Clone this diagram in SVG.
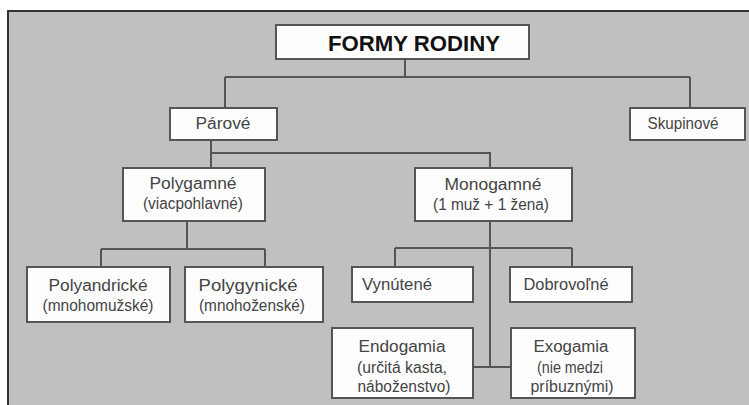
<svg xmlns="http://www.w3.org/2000/svg" width="749" height="405" viewBox="0 0 749 405">
<style>
.box{fill:#fdfdfd;stroke:#555;stroke-width:2}
.ln{fill:none;stroke:#555;stroke-width:2}
.t{font-family:"Liberation Sans",Arial,sans-serif;font-size:16px;fill:#444;text-anchor:middle}
.title{font-family:"Liberation Sans",Arial,sans-serif;font-size:22px;font-weight:bold;fill:#111;text-anchor:middle}
</style>
<rect x="0" y="0" width="749" height="405" fill="#ffffff"/>
<rect x="8" y="11" width="741" height="394" fill="#c0c0c0"/>
<path d="M8 405 V11 H749" fill="none" stroke="#333" stroke-width="2"/>
<g id="connectors">
<path class="ln" d="M405 59 V77 M225 77 H690 M225 77 V108 M690 77 V108"/>
<path class="ln" d="M211 140 V168 M211 153 H490 V168"/>
<path class="ln" d="M187 221 V249 M101 249 H265 M101 249 V267 M265 249 V267"/>
<path class="ln" d="M490 221 V367 M395 248 H572 M395 248 V267 M572 248 V267 M473 367 H511"/>
</g>
<g id="formy">
<rect class="box" x="276" y="25" width="253" height="34"/>
<text class="title" x="414" y="51" textLength="172" lengthAdjust="spacingAndGlyphs">FORMY RODINY</text>
</g>
<g id="parove">
<rect class="box" x="170" y="108" width="107" height="32"/>
<text class="t" x="223" y="129" textLength="55" lengthAdjust="spacingAndGlyphs">Párové</text>
</g>
<g id="skupinove">
<rect class="box" x="630" y="108" width="115" height="32"/>
<text class="t" x="683" y="129" textLength="71" lengthAdjust="spacingAndGlyphs">Skupinové</text>
</g>
<g id="polygamne">
<rect class="box" x="123" y="168" width="142" height="53"/>
<text class="t" x="193" y="189" textLength="87" lengthAdjust="spacingAndGlyphs">Polygamné</text>
<text class="t" x="193" y="209" font-size="14" textLength="100" lengthAdjust="spacingAndGlyphs">(viacpohlavné)</text>
</g>
<g id="monogamne">
<rect class="box" x="415" y="168" width="157" height="53"/>
<text class="t" x="493" y="190" textLength="97" lengthAdjust="spacingAndGlyphs">Monogamné</text>
<text class="t" x="491" y="210" font-size="14" textLength="116" lengthAdjust="spacingAndGlyphs">(1 muž + 1 žena)</text>
</g>
<g id="polyandricke">
<rect class="box" x="27" y="267" width="143" height="55"/>
<text class="t" x="98" y="291" textLength="99" lengthAdjust="spacingAndGlyphs">Polyandrické</text>
<text class="t" x="98" y="311" font-size="14" textLength="111" lengthAdjust="spacingAndGlyphs">(mnohomužské)</text>
</g>
<g id="polygynicke">
<rect class="box" x="185" y="267" width="138" height="55"/>
<text class="t" x="248" y="291" font-size="18" textLength="99" lengthAdjust="spacingAndGlyphs">Polygynické</text>
<text class="t" x="252" y="311" font-size="14" textLength="106" lengthAdjust="spacingAndGlyphs">(mnohoženské)</text>
</g>
<g id="vynutene">
<rect class="box" x="352" y="267" width="121" height="35"/>
<text class="t" x="397" y="290" textLength="70" lengthAdjust="spacingAndGlyphs">Vynútené</text>
</g>
<g id="dobrovolne">
<rect class="box" x="510" y="267" width="122" height="35"/>
<text class="t" x="566" y="290" textLength="85" lengthAdjust="spacingAndGlyphs">Dobrovoľné</text>
</g>
<g id="endogamia">
<rect class="box" x="332" y="328" width="141" height="70"/>
<text class="t" x="402" y="352" textLength="87" lengthAdjust="spacingAndGlyphs">Endogamia</text>
<text class="t" x="402" y="373" font-size="15" textLength="90" lengthAdjust="spacingAndGlyphs">(určitá kasta,</text>
<text class="t" x="404" y="392" font-size="15" textLength="93" lengthAdjust="spacingAndGlyphs">náboženstvo)</text>
</g>
<g id="exogamia">
<rect class="box" x="511" y="328" width="124" height="70"/>
<text class="t" x="571" y="352" textLength="75" lengthAdjust="spacingAndGlyphs">Exogamia</text>
<text class="t" x="570" y="373" font-size="15" textLength="66" lengthAdjust="spacingAndGlyphs">(nie medzi</text>
<text class="t" x="572" y="392" font-size="15" textLength="83" lengthAdjust="spacingAndGlyphs">príbuznými)</text>
</g>
</svg>
